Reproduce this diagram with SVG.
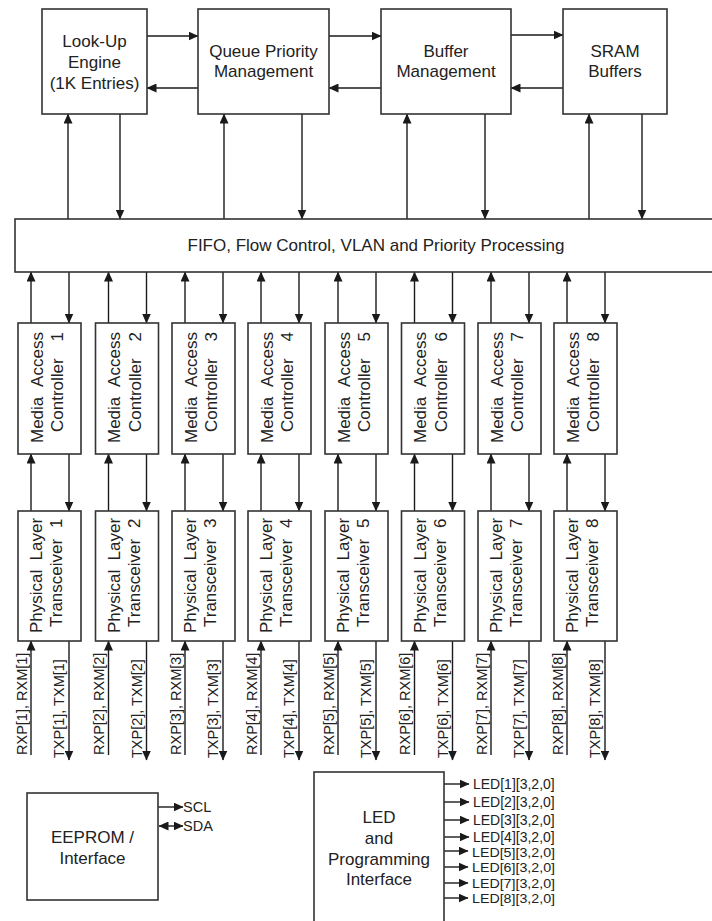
<svg xmlns="http://www.w3.org/2000/svg" width="712" height="921" viewBox="0 0 712 921">
<defs>
<marker id="ah" markerUnits="userSpaceOnUse" markerWidth="10" markerHeight="9" refX="9.5" refY="4.5" orient="auto-start-reverse" viewBox="0 0 10 9">
<path d="M0,0 L10,4.5 L0,9 z" fill="#1a1a1a"/>
</marker>
</defs>
<style>
.box{fill:#fff;stroke:#333;stroke-width:1.6}
.c{fill:none;stroke:#1a1a1a;stroke-width:1.4;marker-end:url(#ah)}
.cb{fill:none;stroke:#1a1a1a;stroke-width:1.4;marker-end:url(#ah);marker-start:url(#ah)}
.t{font-family:"Liberation Sans",Arial,sans-serif;font-size:17px;fill:#222;text-anchor:middle}
.v1{font-family:"Liberation Sans",Arial,sans-serif;font-size:17px;fill:#222;word-spacing:6px}
.v2{font-family:"Liberation Sans",Arial,sans-serif;font-size:17px;fill:#222;word-spacing:12px}
.p1{font-family:"Liberation Sans",Arial,sans-serif;font-size:17px;fill:#222;word-spacing:4.5px}
.p2{font-family:"Liberation Sans",Arial,sans-serif;font-size:17px;fill:#222;word-spacing:6px}
.s{font-family:"Liberation Sans",Arial,sans-serif;font-size:14.5px;fill:#222}
.l{font-family:"Liberation Sans",Arial,sans-serif;font-size:14px;fill:#222}
.l2{font-family:"Liberation Sans",Arial,sans-serif;font-size:12.5px;fill:#222}
</style>
<rect width="712" height="921" fill="#fff"/>

<g id="connectors">
<line class="c" x1="147" y1="36" x2="198" y2="36"/>
<line class="c" x1="198" y1="88" x2="147" y2="88"/>
<line class="c" x1="329" y1="36" x2="381" y2="36"/>
<line class="c" x1="381" y1="88" x2="329" y2="88"/>
<line class="c" x1="511" y1="35" x2="563" y2="35"/>
<line class="c" x1="563" y1="88" x2="511" y2="88"/>
<line class="c" x1="68" y1="219" x2="68" y2="114"/>
<line class="c" x1="120" y1="114" x2="120" y2="219"/>
<line class="c" x1="224" y1="219" x2="224" y2="114"/>
<line class="c" x1="302" y1="114" x2="302" y2="219"/>
<line class="c" x1="407" y1="219" x2="407" y2="114"/>
<line class="c" x1="485" y1="114" x2="485" y2="219"/>
<line class="c" x1="589" y1="219" x2="589" y2="114"/>
<line class="c" x1="642" y1="114" x2="642" y2="219"/>

<line class="c" x1="31" y1="323" x2="31" y2="272"/><line class="c" x1="69" y1="272" x2="69" y2="323"/>
<line class="c" x1="31" y1="511" x2="31" y2="454"/><line class="c" x1="69" y1="454" x2="69" y2="511"/>
<line class="c" x1="31" y1="755" x2="31" y2="641"/><line class="c" x1="69" y1="641" x2="69" y2="760"/>

<line class="c" x1="108.5" y1="323" x2="108.5" y2="272"/><line class="c" x1="146.5" y1="272" x2="146.5" y2="323"/>
<line class="c" x1="108.5" y1="511" x2="108.5" y2="454"/><line class="c" x1="146.5" y1="454" x2="146.5" y2="511"/>
<line class="c" x1="108.5" y1="755" x2="108.5" y2="641"/><line class="c" x1="146.5" y1="641" x2="146.5" y2="760"/>

<line class="c" x1="185" y1="323" x2="185" y2="272"/><line class="c" x1="223" y1="272" x2="223" y2="323"/>
<line class="c" x1="185" y1="511" x2="185" y2="454"/><line class="c" x1="223" y1="454" x2="223" y2="511"/>
<line class="c" x1="185" y1="755" x2="185" y2="641"/><line class="c" x1="223" y1="641" x2="223" y2="760"/>

<line class="c" x1="261" y1="323" x2="261" y2="272"/><line class="c" x1="299" y1="272" x2="299" y2="323"/>
<line class="c" x1="261" y1="511" x2="261" y2="454"/><line class="c" x1="299" y1="454" x2="299" y2="511"/>
<line class="c" x1="261" y1="755" x2="261" y2="641"/><line class="c" x1="299" y1="641" x2="299" y2="760"/>

<line class="c" x1="338" y1="323" x2="338" y2="272"/><line class="c" x1="376" y1="272" x2="376" y2="323"/>
<line class="c" x1="338" y1="511" x2="338" y2="454"/><line class="c" x1="376" y1="454" x2="376" y2="511"/>
<line class="c" x1="338" y1="755" x2="338" y2="641"/><line class="c" x1="376" y1="641" x2="376" y2="760"/>

<line class="c" x1="414.5" y1="323" x2="414.5" y2="272"/><line class="c" x1="452.5" y1="272" x2="452.5" y2="323"/>
<line class="c" x1="414.5" y1="511" x2="414.5" y2="454"/><line class="c" x1="452.5" y1="454" x2="452.5" y2="511"/>
<line class="c" x1="414.5" y1="755" x2="414.5" y2="641"/><line class="c" x1="452.5" y1="641" x2="452.5" y2="760"/>

<line class="c" x1="491" y1="323" x2="491" y2="272"/><line class="c" x1="529" y1="272" x2="529" y2="323"/>
<line class="c" x1="491" y1="511" x2="491" y2="454"/><line class="c" x1="529" y1="454" x2="529" y2="511"/>
<line class="c" x1="491" y1="755" x2="491" y2="641"/><line class="c" x1="529" y1="641" x2="529" y2="760"/>

<line class="c" x1="567" y1="323" x2="567" y2="272"/><line class="c" x1="605" y1="272" x2="605" y2="323"/>
<line class="c" x1="567" y1="511" x2="567" y2="454"/><line class="c" x1="605" y1="454" x2="605" y2="511"/>
<line class="c" x1="567" y1="755" x2="567" y2="641"/><line class="c" x1="605" y1="641" x2="605" y2="760"/>

<line class="c" x1="158" y1="807" x2="183" y2="807"/>
<line class="cb" x1="159" y1="826" x2="183" y2="826"/>

<line class="c" x1="444" y1="784" x2="469" y2="784"/>
<line class="c" x1="444" y1="802" x2="469" y2="802"/>
<line class="c" x1="444" y1="820" x2="469" y2="820"/>
<line class="c" x1="444" y1="837" x2="469" y2="837"/>
<line class="c" x1="444" y1="851" x2="468" y2="851"/>
<line class="c" x1="444" y1="867" x2="468" y2="867"/>
<line class="c" x1="444" y1="883" x2="468" y2="883"/>
<line class="c" x1="444" y1="898" x2="468" y2="898"/>
</g>

<g id="lookup"><rect class="box" x="42" y="9" width="105" height="105"/>
<text class="t" x="94.5" y="47">Look-Up</text><text class="t" x="94.5" y="68">Engine</text><text class="t" x="94.5" y="89">(1K Entries)</text></g>
<g id="queue"><rect class="box" x="198" y="9" width="131" height="105"/>
<text class="t" x="263.5" y="57">Queue Priority</text><text class="t" x="263.5" y="77">Management</text></g>
<g id="buffer"><rect class="box" x="381" y="9" width="130" height="105"/>
<text class="t" x="446" y="57">Buffer</text><text class="t" x="446" y="77">Management</text></g>
<g id="sram"><rect class="box" x="563" y="9" width="104" height="105"/>
<text class="t" x="615" y="57">SRAM</text><text class="t" x="615" y="77">Buffers</text></g>

<g id="fifo"><rect class="box" x="15" y="219" width="710" height="53"/>
<text class="t" x="376" y="251">FIFO, Flow Control, VLAN and Priority Processing</text></g>

<g id="mac1"><rect class="box" x="18" y="323" width="63" height="131"/>
<text class="v1" transform="translate(42.5,443) rotate(-90)">Media Access</text><text class="v2" transform="translate(63,432) rotate(-90)">Controller 1</text></g>
<g id="mac2"><rect class="box" x="95.5" y="323" width="63" height="131"/>
<text class="v1" transform="translate(120,443) rotate(-90)">Media Access</text><text class="v2" transform="translate(140.5,432) rotate(-90)">Controller 2</text></g>
<g id="mac3"><rect class="box" x="172" y="323" width="63" height="131"/>
<text class="v1" transform="translate(196.5,443) rotate(-90)">Media Access</text><text class="v2" transform="translate(217,432) rotate(-90)">Controller 3</text></g>
<g id="mac4"><rect class="box" x="248" y="323" width="63" height="131"/>
<text class="v1" transform="translate(272.5,443) rotate(-90)">Media Access</text><text class="v2" transform="translate(293,432) rotate(-90)">Controller 4</text></g>
<g id="mac5"><rect class="box" x="325" y="323" width="63" height="131"/>
<text class="v1" transform="translate(349.5,443) rotate(-90)">Media Access</text><text class="v2" transform="translate(370,432) rotate(-90)">Controller 5</text></g>
<g id="mac6"><rect class="box" x="401.5" y="323" width="63" height="131"/>
<text class="v1" transform="translate(426,443) rotate(-90)">Media Access</text><text class="v2" transform="translate(446.5,432) rotate(-90)">Controller 6</text></g>
<g id="mac7"><rect class="box" x="478" y="323" width="63" height="131"/>
<text class="v1" transform="translate(502.5,443) rotate(-90)">Media Access</text><text class="v2" transform="translate(523,432) rotate(-90)">Controller 7</text></g>
<g id="mac8"><rect class="box" x="554" y="323" width="63" height="131"/>
<text class="v1" transform="translate(578.5,443) rotate(-90)">Media Access</text><text class="v2" transform="translate(599,432) rotate(-90)">Controller 8</text></g>

<g id="phy1"><rect class="box" x="18" y="511" width="63" height="130"/>
<text class="p1" transform="translate(42,633) rotate(-90)">Physical Layer</text><text class="p2" transform="translate(62,627) rotate(-90)">Transceiver 1</text>
<text class="s" transform="translate(26.5,755) rotate(-90)">RXP[1], RXM[1]</text><text class="s" transform="translate(64,758) rotate(-90)">TXP[1], TXM[1]</text></g>
<g id="phy2"><rect class="box" x="95.5" y="511" width="63" height="130"/>
<text class="p1" transform="translate(119.5,633) rotate(-90)">Physical Layer</text><text class="p2" transform="translate(139.5,627) rotate(-90)">Transceiver 2</text>
<text class="s" transform="translate(104,755) rotate(-90)">RXP[2], RXM[2]</text><text class="s" transform="translate(141.5,758) rotate(-90)">TXP[2], TXM[2]</text></g>
<g id="phy3"><rect class="box" x="172" y="511" width="63" height="130"/>
<text class="p1" transform="translate(196,633) rotate(-90)">Physical Layer</text><text class="p2" transform="translate(216,627) rotate(-90)">Transceiver 3</text>
<text class="s" transform="translate(180.5,755) rotate(-90)">RXP[3], RXM[3]</text><text class="s" transform="translate(218,758) rotate(-90)">TXP[3], TXM[3]</text></g>
<g id="phy4"><rect class="box" x="248" y="511" width="63" height="130"/>
<text class="p1" transform="translate(272,633) rotate(-90)">Physical Layer</text><text class="p2" transform="translate(292,627) rotate(-90)">Transceiver 4</text>
<text class="s" transform="translate(256.5,755) rotate(-90)">RXP[4], RXM[4]</text><text class="s" transform="translate(294,758) rotate(-90)">TXP[4], TXM[4]</text></g>
<g id="phy5"><rect class="box" x="325" y="511" width="63" height="130"/>
<text class="p1" transform="translate(349,633) rotate(-90)">Physical Layer</text><text class="p2" transform="translate(369,627) rotate(-90)">Transceiver 5</text>
<text class="s" transform="translate(333.5,755) rotate(-90)">RXP[5], RXM[5]</text><text class="s" transform="translate(371,758) rotate(-90)">TXP[5], TXM[5]</text></g>
<g id="phy6"><rect class="box" x="401.5" y="511" width="63" height="130"/>
<text class="p1" transform="translate(425.5,633) rotate(-90)">Physical Layer</text><text class="p2" transform="translate(445.5,627) rotate(-90)">Transceiver 6</text>
<text class="s" transform="translate(410,755) rotate(-90)">RXP[6], RXM[6]</text><text class="s" transform="translate(447.5,758) rotate(-90)">TXP[6], TXM[6]</text></g>
<g id="phy7"><rect class="box" x="478" y="511" width="63" height="130"/>
<text class="p1" transform="translate(502,633) rotate(-90)">Physical Layer</text><text class="p2" transform="translate(522,627) rotate(-90)">Transceiver 7</text>
<text class="s" transform="translate(486.5,755) rotate(-90)">RXP[7], RXM[7]</text><text class="s" transform="translate(524,758) rotate(-90)">TXP[7], TXM[7]</text></g>
<g id="phy8"><rect class="box" x="554" y="511" width="63" height="130"/>
<text class="p1" transform="translate(578,633) rotate(-90)">Physical Layer</text><text class="p2" transform="translate(598,627) rotate(-90)">Transceiver 8</text>
<text class="s" transform="translate(562.5,755) rotate(-90)">RXP[8], RXM[8]</text><text class="s" transform="translate(600,758) rotate(-90)">TXP[8], TXM[8]</text></g>

<g id="eeprom"><rect class="box" x="27" y="793" width="131" height="107"/>
<text class="t" x="92.5" y="843">EEPROM /</text><text class="t" x="92.5" y="864">Interface</text>
<text class="s" x="183" y="812">SCL</text><text class="s" x="183" y="831">SDA</text></g>

<g id="led"><rect class="box" x="314" y="772" width="130" height="160"/>
<text class="t" x="379" y="823">LED</text><text class="t" x="379" y="844">and</text><text class="t" x="379" y="865">Programming</text><text class="t" x="379" y="885">Interface</text>
<text class="l" x="473" y="789">LED[1][3,2,0]</text>
<text class="l" x="473" y="807">LED[2][3,2,0]</text>
<text class="l" x="473" y="825">LED[3][3,2,0]</text>
<text class="l" x="473" y="841.5">LED[4][3,2,0]</text>
<text class="l2" x="472" y="856.5" textLength="83" lengthAdjust="spacingAndGlyphs">LED[5][3,2,0]</text>
<text class="l2" x="472" y="872" textLength="83" lengthAdjust="spacingAndGlyphs">LED[6][3,2,0]</text>
<text class="l2" x="472" y="887.5" textLength="83" lengthAdjust="spacingAndGlyphs">LED[7][3,2,0]</text>
<text class="l2" x="472" y="902.5" textLength="83" lengthAdjust="spacingAndGlyphs">LED[8][3,2,0]</text></g>
</svg>
